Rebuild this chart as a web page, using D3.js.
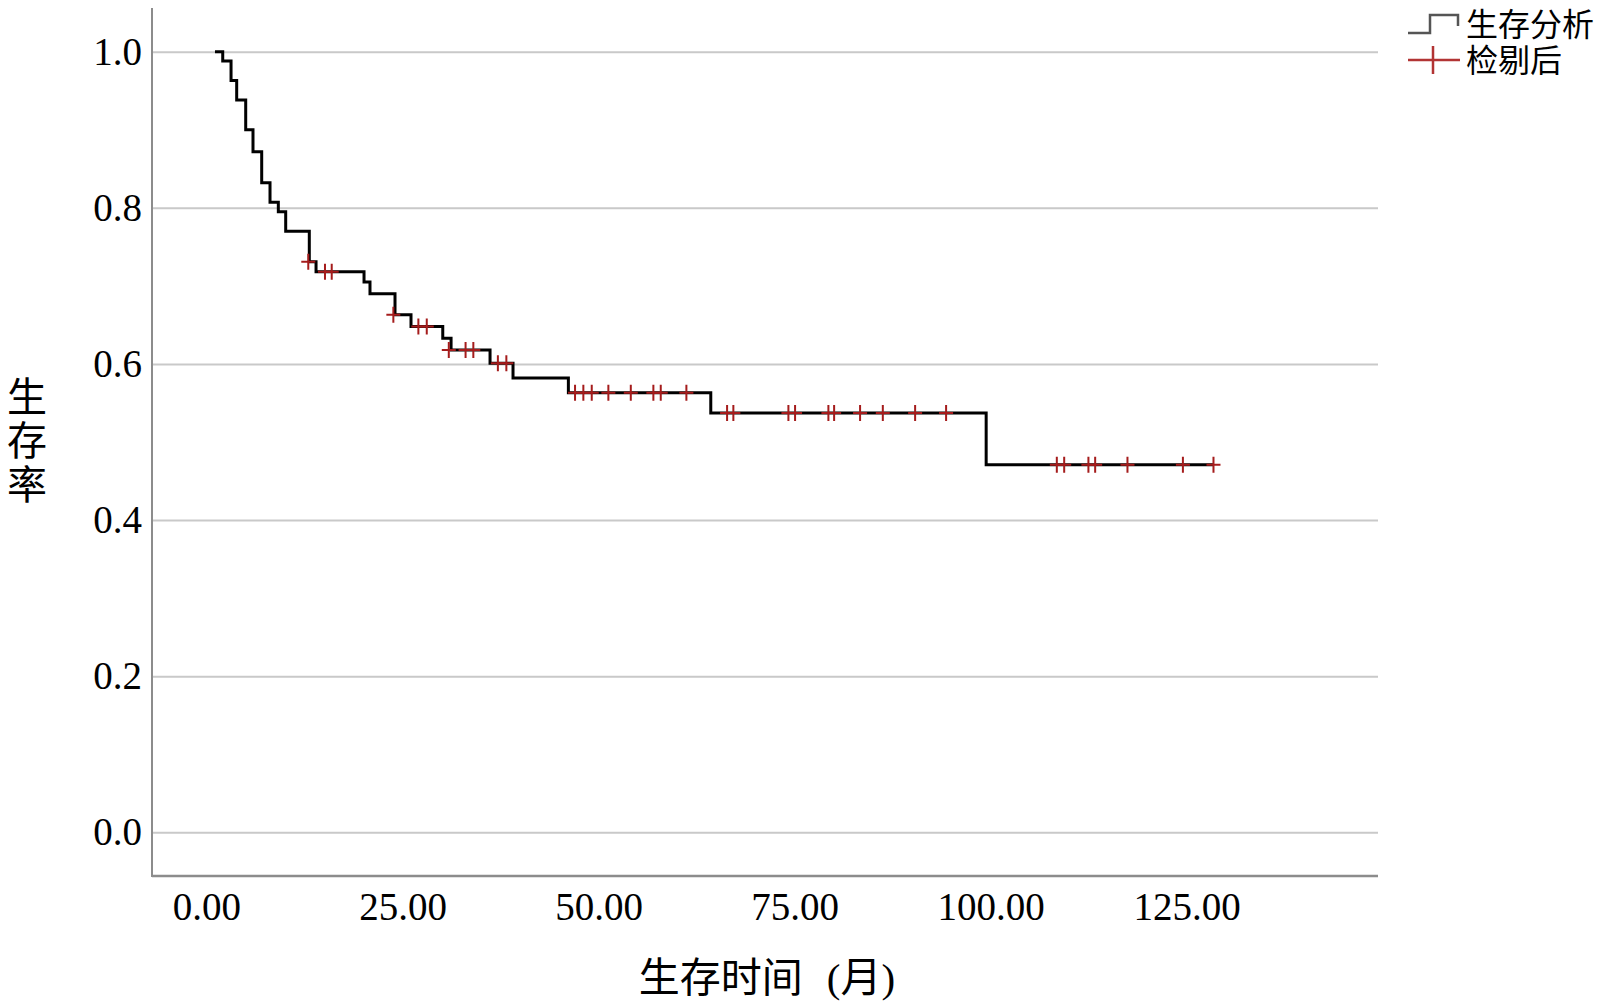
<!DOCTYPE html>
<html>
<head>
<meta charset="utf-8">
<script src="https://cdn.jsdelivr.net/npm/d3@7/dist/d3.min.js"></script>
<style>
  html, body { margin: 0; padding: 0; background: #fff; }
  svg { display: block; }
</style>
</head>
<body>
<svg id="chart" width="1600" height="1006"></svg>
<script>
// ---- data ----
const stepTimes = [1.08, 2.07, 3.13, 3.85, 5.0, 5.93, 7.04, 8.10, 9.16, 10.10, 13.11, 13.97, 20.09, 20.85, 24.04, 26.08, 30.13, 31.19, 36.16, 39.09, 46.15, 64.31, 99.43, 128.42];
const stepSurvival = [1.0, 0.988, 0.963, 0.938, 0.900, 0.872, 0.832, 0.807, 0.795, 0.770, 0.731, 0.718, 0.705, 0.690, 0.663, 0.648, 0.633, 0.618, 0.601, 0.582, 0.563, 0.537, 0.471, 0.471];

const censorTimes = [12.98, 15.11, 15.97, 23.83, 27.02, 28.09, 30.9, 33.04, 34.03, 37.16, 38.24,
  47.0, 48.06, 49.13, 51.25, 54.11, 56.99, 57.93, 61.2,
  66.39, 67.19, 74.21, 75.06, 79.31, 80.04, 83.35, 86.25, 90.37, 94.32,
  108.44, 109.38, 112.47, 113.33, 117.45, 124.52, 128.42];
const censorSurvival = [0.731, 0.718, 0.718, 0.663, 0.648, 0.648, 0.618, 0.618, 0.618, 0.601, 0.601,
  0.563, 0.563, 0.563, 0.563, 0.563, 0.563, 0.563, 0.563,
  0.537, 0.537, 0.537, 0.537, 0.537, 0.537, 0.537, 0.537, 0.537, 0.537,
  0.471, 0.471, 0.471, 0.471, 0.471, 0.471, 0.471];

const xTicks = [0, 25, 50, 75, 100, 125];
const yTicks = [0.0, 0.2, 0.4, 0.6, 0.8, 1.0];
const xTitle = ["生存时间", "(月)"];
const yTitle = "生存率";
const legendLabels = ["生存分析", "检剔后"];

// ---- layout ----
const svg = d3.select("#chart");
const pL = 152, pR = 1378, pT = 8, pB = 876;
const x = d3.scaleLinear().domain([-6.95, 149.4]).range([pL, pR]);
const y = d3.scaleLinear().domain([-0.056, 1.056]).range([pB, pT]);

const serif = "'Liberation Serif', 'Times New Roman', serif";
const cjk = "'Noto Sans CJK SC', 'Noto Sans', sans-serif";

// gridlines + y labels
const yAxis = svg.append("g")
  .attr("transform", `translate(${pL},0)`)
  .call(d3.axisLeft(y).tickValues(yTicks).tickSize(-(pR - pL)).tickPadding(10).tickFormat(d3.format(".1f")));
yAxis.select(".domain").remove();
yAxis.selectAll(".tick line").attr("stroke", "#c9c9c9").attr("stroke-width", 2);
yAxis.selectAll(".tick text")
  .attr("font-family", serif).attr("font-size", 39).attr("fill", "#000");

// x axis labels
const xAxis = svg.append("g")
  .attr("transform", `translate(0,${pB})`)
  .call(d3.axisBottom(x).tickValues(xTicks).tickSize(0).tickPadding(0).tickFormat(d3.format(".2f")));
xAxis.select(".domain").remove();
xAxis.selectAll(".tick text")
  .attr("font-family", serif).attr("font-size", 39).attr("fill", "#000")
  .attr("y", 44).attr("dy", 0);

// axis frame lines
svg.append("line").attr("x1", pL).attr("x2", pL).attr("y1", pT).attr("y2", pB + 1)
  .attr("stroke", "#8c8c8c").attr("stroke-width", 2);
svg.append("line").attr("x1", pL).attr("x2", pR).attr("y1", pB).attr("y2", pB)
  .attr("stroke", "#8c8c8c").attr("stroke-width", 2.5);

// survival step line
const pts = stepTimes.map((t, i) => [t, stepSurvival[i]]);
svg.append("path")
  .datum(pts)
  .attr("fill", "none")
  .attr("stroke", "#000")
  .attr("stroke-width", 3)
  .attr("d", d3.line().x(d => x(d[0])).y(d => y(d[1])).curve(d3.curveStepAfter));

// censor marks
const red = "#a51c1c";
const cens = censorTimes.map((t, i) => [t, censorSurvival[i]]);
const cg = svg.append("g").attr("stroke", red).attr("stroke-width", 2);
cg.selectAll("path").data(cens).enter().append("path")
  .attr("fill", "none")
  .attr("d", d => {
    const cx = x(d[0]), cy = y(d[1]);
    return `M${cx - 7},${cy}H${cx + 7}M${cx},${cy - 8}V${cy + 8}`;
  });

// axis titles
const xt = svg.append("text")
  .attr("x", 767).attr("y", 992)
  .attr("text-anchor", "middle")
  .attr("font-size", 41).attr("fill", "#000");
xt.append("tspan").attr("font-family", cjk).text(xTitle[0]);
xt.append("tspan").attr("dx", 24).attr("font-family", serif).text("(");
xt.append("tspan").attr("font-family", cjk).text(xTitle[1].slice(1, -1));
xt.append("tspan").attr("font-family", serif).text(")");

// vertical y title (upright CJK, vertical writing mode)
svg.append("text")
  .attr("x", 27).attr("y", 442)
  .attr("text-anchor", "middle")
  .style("writing-mode", "vertical-rl")
  .style("letter-spacing", "4px")
  .attr("font-family", cjk).attr("font-size", 40).attr("fill", "#000")
  .text(yTitle);

// legend
svg.append("path")
  .attr("d", "M1408,33H1430V15H1458V26")
  .attr("fill", "none").attr("stroke", "#555").attr("stroke-width", 2.5);
svg.append("path")
  .attr("d", "M1408,60H1460M1433,46V74")
  .attr("fill", "none").attr("stroke", "#b23434").attr("stroke-width", 2.5);
const lt = svg.append("text")
  .attr("font-family", cjk).attr("font-size", 32).attr("fill", "#000");
lt.selectAll("tspan").data(legendLabels).enter().append("tspan")
  .attr("x", 1466).attr("y", (d, i) => 36 + i * 36)
  .text(d => d);
</script>
</body>
</html>
